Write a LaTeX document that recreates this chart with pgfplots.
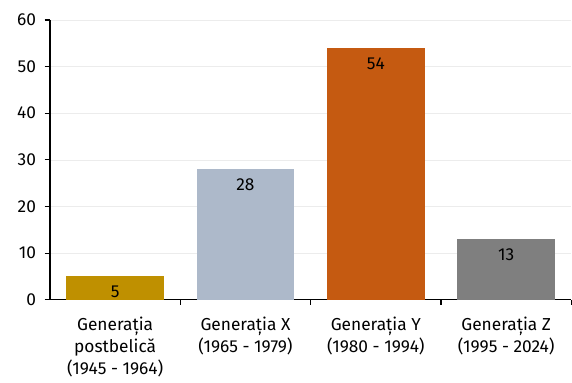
\documentclass[border=0pt]{standalone}
\usepackage{pgfplots}
\pgfplotsset{compat=1.18}
\usepackage{fontspec}
\setmainfont{Fira Sans}
\definecolor{cgold}{HTML}{BF9000}
\definecolor{cblue}{HTML}{ADB9CA}
\definecolor{corange}{HTML}{C55A11}
\definecolor{cgray}{HTML}{7F7F7F}
\begin{document}
\fontsize{13}{16.5}\selectfont
\begin{tikzpicture}
\begin{axis}[
    scale only axis,
    width=391.5pt, height=210pt,
    xmin=-0.5, xmax=3.5,
    ymin=0, ymax=60,
    ytick={0,10,...,60},
    xtick={0,1,2,3},
    xticklabels={{Generația\\postbelică\\(1945 - 1964)},{Generația X\\(1965 - 1979)},{Generația Y\\(1980 - 1994)},{Generația Z\\(1995 - 2024)}},
    xticklabel style={align=center, font=\fontsize{13}{16.5}\selectfont, yshift=-4.5pt},
    yticklabel style={font=\fontsize{13}{16.5}\selectfont, xshift=-2pt},
    major x tick style={draw=none},
    minor xtick={0.5,1.5,2.5,3.5},
    minor tick length=4pt,
    major tick length=4pt,
    tick align=outside,
    tick style={black, line width=0.8pt},
    axis x line*=bottom,
    axis y line*=left,
    axis line style={black, line width=1pt, -},
    ymajorgrids,
    grid style={gray!15, line width=0.4pt},
    /pgf/number format/assume math mode=true,
    ybar, bar width=0.75, bar shift=0pt,
    nodes near coords,
    every node near coord/.append style={anchor=north, yshift=-2.5pt, black, font=\fontsize{13}{14}\selectfont},
    clip=false,
]
\addplot[fill=cgold, draw=none] coordinates {(0,5)};
\addplot[fill=cblue, draw=none] coordinates {(1,28)};
\addplot[fill=corange, draw=none] coordinates {(2,54)};
\addplot[fill=cgray, draw=none] coordinates {(3,13)};
\end{axis}
\path (current axis.south west) ++(-37.5pt,-57pt) (current axis.north east) ++(0pt,15pt);
\end{tikzpicture}
\end{document}
